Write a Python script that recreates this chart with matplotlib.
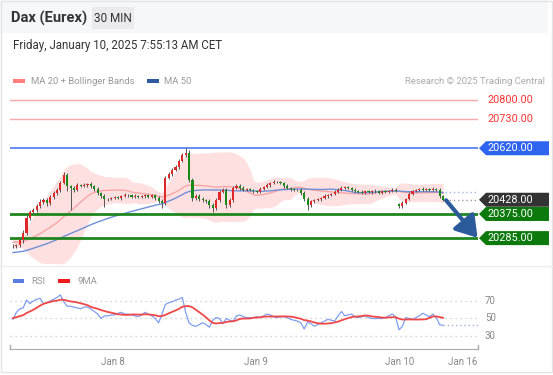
import numpy as np
import pandas as pd
import matplotlib
matplotlib.use("Agg")
import matplotlib.pyplot as plt
from matplotlib.patches import Polygon, Rectangle
from matplotlib import transforms

plt.rcParams['font.family'] = ['Roboto', 'DejaVu Sans']

W, H = 553, 375

# closes before the visible window (only used to seed the moving averages)
pre_close = [20195, 20190, 20200, 20205, 20198, 20192, 20188, 20196, 20205, 20210,
             20202, 20195, 20200, 20208, 20212, 20205, 20198, 20203, 20210, 20215,
             20208, 20200, 20196, 20204, 20212, 20218, 20210, 20205, 20214, 20222,
             20240, 20252, 20265, 20270, 20262, 20268, 20278, 20285, 20280, 20272,
             20265, 20270, 20280, 20290, 20285, 20276, 20268, 20262, 20258, 20255]

close = [20256, 20259, 20278, 20304, 20360, 20382, 20390, 20405, 20420, 20427,
         20416, 20438, 20453, 20465, 20491, 20520, 20479, 20472, 20465, 20483,
         20480, 20483, 20487, 20479, 20468, 20453, 20442, 20431, 20431, 20435,
         20438, 20434, 20442, 20447, 20444, 20440, 20443, 20439, 20441, 20446,
         20440, 20444, 20435, 20423, 20416, 20509, 20524, 20539, 20550, 20573,
         20595, 20602, 20502, 20435, 20442, 20431, 20427, 20423, 20409, 20397,
         20427, 20457, 20465, 20409, 20427, 20472, 20480, 20472, 20465, 20468,
         20465, 20461, 20457, 20468, 20476, 20483, 20491, 20494, 20494, 20491,
         20479, 20472, 20468, 20465, 20465, 20453, 20431, 20409, 20423, 20427,
         20431, 20435, 20442, 20446, 20450, 20457, 20465, 20472, 20476, 20472,
         20466, 20462, 20458, 20455, 20461, 20456, 20459, 20462, 20455, 20460,
         20457, 20462, 20466, 20460, 20405, 20416, 20431, 20450, 20461, 20465,
         20468, 20465, 20468, 20465, 20468, 20465, 20442, 20428]

hi_wick = [6, 5, 8, 12, 10, 8, 6, 7, 9, 6,
           6, 7, 8, 6, 8, 11, 6, 5, 6, 7,
           5, 6, 5, 6, 5, 6, 5, 6, 5, 5,
           4, 5, 5, 6, 4, 5, 5, 4, 6, 5,
           5, 4, 5, 6, 7, 6, 8, 6, 7, 8,
           8, 18, 10, 8, 6, 7, 6, 5, 7, 6,
           8, 7, 6, 8, 7, 8, 6, 5, 6, 5,
           5, 4, 5, 6, 5, 6, 5, 6, 4, 5,
           5, 6, 4, 5, 4, 5, 6, 6, 5, 4,
           5, 4, 6, 5, 4, 6, 5, 6, 5, 4,
           4, 5, 4, 5, 4, 5, 4, 5, 4, 5,
           5, 4, 5, 4, 5, 6, 5, 6, 5, 4,
           5, 6, 4, 5, 6, 4, 5, 4]

lo_wick = [8, 6, 7, 10, 8, 6, 7, 8, 6, 7,
           10, 6, 7, 6, 8, 6, 20, 82, 8, 6,
           6, 5, 6, 7, 6, 8, 7, 30, 6, 5,
           5, 4, 6, 5, 5, 4, 6, 5, 4, 5,
           5, 6, 7, 8, 19, 6, 5, 6, 5, 6,
           5, 6, 8, 10, 8, 7, 9, 8, 10, 15,
           7, 6, 5, 12, 8, 6, 5, 6, 5, 6,
           5, 6, 5, 4, 5, 5, 6, 4, 5, 5,
           6, 5, 6, 5, 4, 6, 8, 19, 7, 6,
           5, 6, 5, 6, 5, 4, 5, 6, 5, 5,
           4, 5, 4, 5, 5, 4, 5, 4, 5, 4,
           5, 4, 5, 4, 8, 6, 5, 5, 4, 5,
           4, 5, 5, 4, 5, 6, 7, 6]

gap_open = {114: 20412}

rsi_pre = [48, 50, 52, 49, 51, 53, 50, 52]
rsi = [49, 57, 61, 62, 71, 67, 70, 72, 73, 67,
       68, 70, 72, 74, 77, 69, 64, 64, 63, 62,
       61, 63, 63, 61, 58, 55, 50, 53, 53, 54,
       54, 56, 57, 55, 55, 54, 53, 52, 54, 57,
       55, 53, 50, 45, 55, 66, 68, 69, 71, 72,
       74, 57, 45, 42, 41, 43, 45, 43, 40, 48,
       51, 50, 44, 50, 48, 47, 53, 54, 52, 51,
       51, 51, 52, 51, 53, 55, 54, 52, 51, 52,
       52, 51, 49, 48, 47, 45, 38, 46, 44, 41,
       43, 45, 47, 49, 48, 47, 53, 58, 53, 54,
       55, 52, 51, 52, 53, 51, 50, 50, 50, 50,
       51, 53, 55, 52, 37, 41, 51, 50, 49, 51,
       53, 56, 54, 52, 55, 51, 43, 42]

levels_res = [20800, 20730]
level_pivot = 20620
level_last = 20428
levels_sup = [20375, 20285]

tick_pos = [29.5, 71.7, 114.2, 132.8]
tick_lab = ["Jan 8", "Jan 9", "Jan 10", "Jan 16"]

# ---- derived series
allc = pd.Series(pre_close + close, dtype=float)
n = len(close)
ma20 = allc.rolling(20).mean().values[-n:]
sd20 = allc.rolling(20).std(ddof=0).values[-n:]
ma50 = allc.rolling(50).mean().values[-n:]
bb_up = ma20 + 2 * sd20
bb_lo = ma20 - 2 * sd20

opens = [pre_close[-1]] + close[:-1]
for k, v in gap_open.items():
    opens[k] = v
opens = np.array(opens, dtype=float)
closes = np.array(close, dtype=float)
highs = np.maximum(opens, closes) + np.array(hi_wick)
lows = np.minimum(opens, closes) - np.array(lo_wick)
x = np.arange(n)

rsi_all = pd.Series(rsi_pre + rsi, dtype=float)
rsi_ma = rsi_all.rolling(9).mean().values[-n:]

XL = (-0.886, 137.33)


def box(x0, y0, x1, y1):
    return [x0 / W, 1 - y1 / H, (x1 - x0) / W, (y1 - y0) / H]


fig = plt.figure(figsize=(W / 100, H / 100), dpi=100)
fig.patch.set_facecolor('white')

# background overlay in pixel coordinates
bg = fig.add_axes([0, 0, 1, 1], zorder=0)
bg.set_xlim(0, W)
bg.set_ylim(H, 0)
bg.axis('off')

bg.add_patch(Rectangle((0, 0), 548, 33, fc='#f6f7f9', ec='none'))
bg.add_patch(Rectangle((1, 1), 550.5, 371, fc='none', ec='#e2e4e8', lw=1))
bg.text(11, 18, "Dax (Eurex)", fontsize=10.6, fontweight='bold', color='#333333', va='center')
bg.add_patch(Rectangle((92, 7), 42, 22, fc='#eaeaec', ec='none'))
bg.text(113, 18, "30 MIN", fontsize=8.5, color='#333333', va='center', ha='center')
bg.text(13, 45.5, "Friday, January 10, 2025 7:55:13 AM CET", fontsize=8.3, color='#333333', va='center')

bg.add_patch(Rectangle((13, 79), 12, 4, fc='#ff7f7f', ec='none'))
bg.text(31, 81, "MA 20 + Bollinger Bands", fontsize=6.8, color='#999999', va='center')
bg.add_patch(Rectangle((147, 79), 12, 4, fc='#2d5aa0', ec='none'))
bg.text(164, 81, "MA 50", fontsize=6.8, color='#999999', va='center')
bg.text(545, 81, "Research \u00a9 2025 Trading Central", fontsize=6.8, color='#aaaaaa', va='center', ha='right')

bg.plot([0, 553], [266, 266], color='#eeeeee', lw=1)

bg.add_patch(Rectangle((13, 279), 11, 4, fc='#5b7fe0', ec='none'))
bg.text(31, 281, "RSI", fontsize=6.8, color='#999999', va='center')
bg.add_patch(Rectangle((58, 279), 12, 4, fc='#ee1c1c', ec='none'))
bg.text(77, 281, "9MA", fontsize=6.8, color='#999999', va='center')

# ---- main price panel
ax = fig.add_axes(box(10, 60, 478, 264), zorder=1)
ax.patch.set_alpha(0)
ax.set_xlim(*XL)
ax.set_ylim(20188.5, 20949)
ax.axis('off')

ax.fill_between(x, bb_lo, bb_up, color='#ffe0e0', lw=0, zorder=1)
ax.plot(x, ma20, color='#f6a5a5', lw=1.0, zorder=2)
ax.plot(x, ma50, color='#6f8fd8', lw=1.0, zorder=2)

for lv in levels_res:
    ax.axhline(lv, color='#f7a8a8', lw=1.0, zorder=2)
ax.axhline(level_pivot, color='#5b84f0', lw=1.3, zorder=2)
for lv in levels_sup:
    ax.axhline(lv, color='#1f861f', lw=2.0, zorder=2)

up = closes >= opens
ax.vlines(x, lows, highs, color='#555555', lw=0.7, zorder=3)
ax.bar(x[up], (closes - opens)[up], bottom=opens[up], width=0.62, color='#e02828', lw=0, zorder=4)
ax.bar(x[~up], (opens - closes)[~up], bottom=closes[~up], width=0.62, color='#178a17', lw=0, zorder=4)

ax.plot([n - 1 + 0.5, XL[1]], [level_last, level_last], ls=(0, (1, 2)), color='#999999', lw=1, zorder=2)
ax.plot([n - 1 + 0.5, XL[1]], [ma50[-1], ma50[-1]], ls=(0, (1, 2)), color='#9fb5e8', lw=1, zorder=2)

ax.annotate('', xy=(137.2, 20286), xytext=(127.9, 20426),
            arrowprops=dict(arrowstyle='-|>,head_length=0.7,head_width=0.45', color='#2c5b9c',
                            lw=3, mutation_scale=18, shrinkA=0, shrinkB=0), zorder=6)

btf = transforms.blended_transform_factory(fig.transFigure, ax.transData)
hh = 7 * (20949 - 20188.5) / 204.0
for lv in levels_res:
    ax.text(487 / W, lv, f"{lv:.2f}", transform=btf, color='#ff3535', fontsize=7.8, va='center', clip_on=False)


def tag(level, color):
    pts = [(479 / W, level), (486 / W, level + hh), (549 / W, level + hh),
           (549 / W, level - hh), (486 / W, level - hh)]
    ax.add_patch(Polygon(pts, closed=True, fc=color, ec='none', transform=btf, clip_on=False, zorder=5))
    ax.text(487 / W, level, f"{level:.2f}", transform=btf, color='white', fontsize=7.8,
            va='center', clip_on=False, zorder=6)


tag(level_pivot, '#2f64f0')
tag(level_last, '#333333')
for lv in levels_sup:
    tag(lv, '#0b790b')

# ---- RSI panel
ar = fig.add_axes(box(10, 270, 478, 349), zorder=1)
ar.patch.set_alpha(0)
ar.set_xlim(*XL)
ar.set_ylim(15.1, 105.4)
for s in ['top', 'right', 'left']:
    ar.spines[s].set_visible(False)
ar.spines['bottom'].set_color('#aaaaaa')
ar.set_yticks([])
ar.set_xticks(tick_pos)
ar.set_xticklabels(tick_lab, fontsize=7, color='#888888')
ar.tick_params(axis='x', length=0, pad=6)

for lv in [70, 50, 30]:
    ar.axhline(lv, color='#c8c8c8', lw=0.9, ls=(0, (1, 3)))
    ar.text(1.015, lv, str(lv), transform=ar.get_yaxis_transform(), fontsize=7,
            color='#888888', va='center')
ar.plot([XL[0], XL[0]], [15.1, 19.5], color='#aaaaaa', lw=1, clip_on=False)
ar.plot([XL[1], XL[1]], [15.1, 19.5], color='#aaaaaa', lw=1, clip_on=False)

ar.plot(x, rsi, color='#7e9ef0', lw=0.9)
ar.plot(x, rsi_ma, color='#f04848', lw=1.3)
ar.plot([n - 1, XL[1]], [rsi[-1], rsi[-1]], ls=(0, (1, 2)), color='#9fb5e8', lw=1)

fig.savefig('out.png', dpi=100, facecolor='white')
